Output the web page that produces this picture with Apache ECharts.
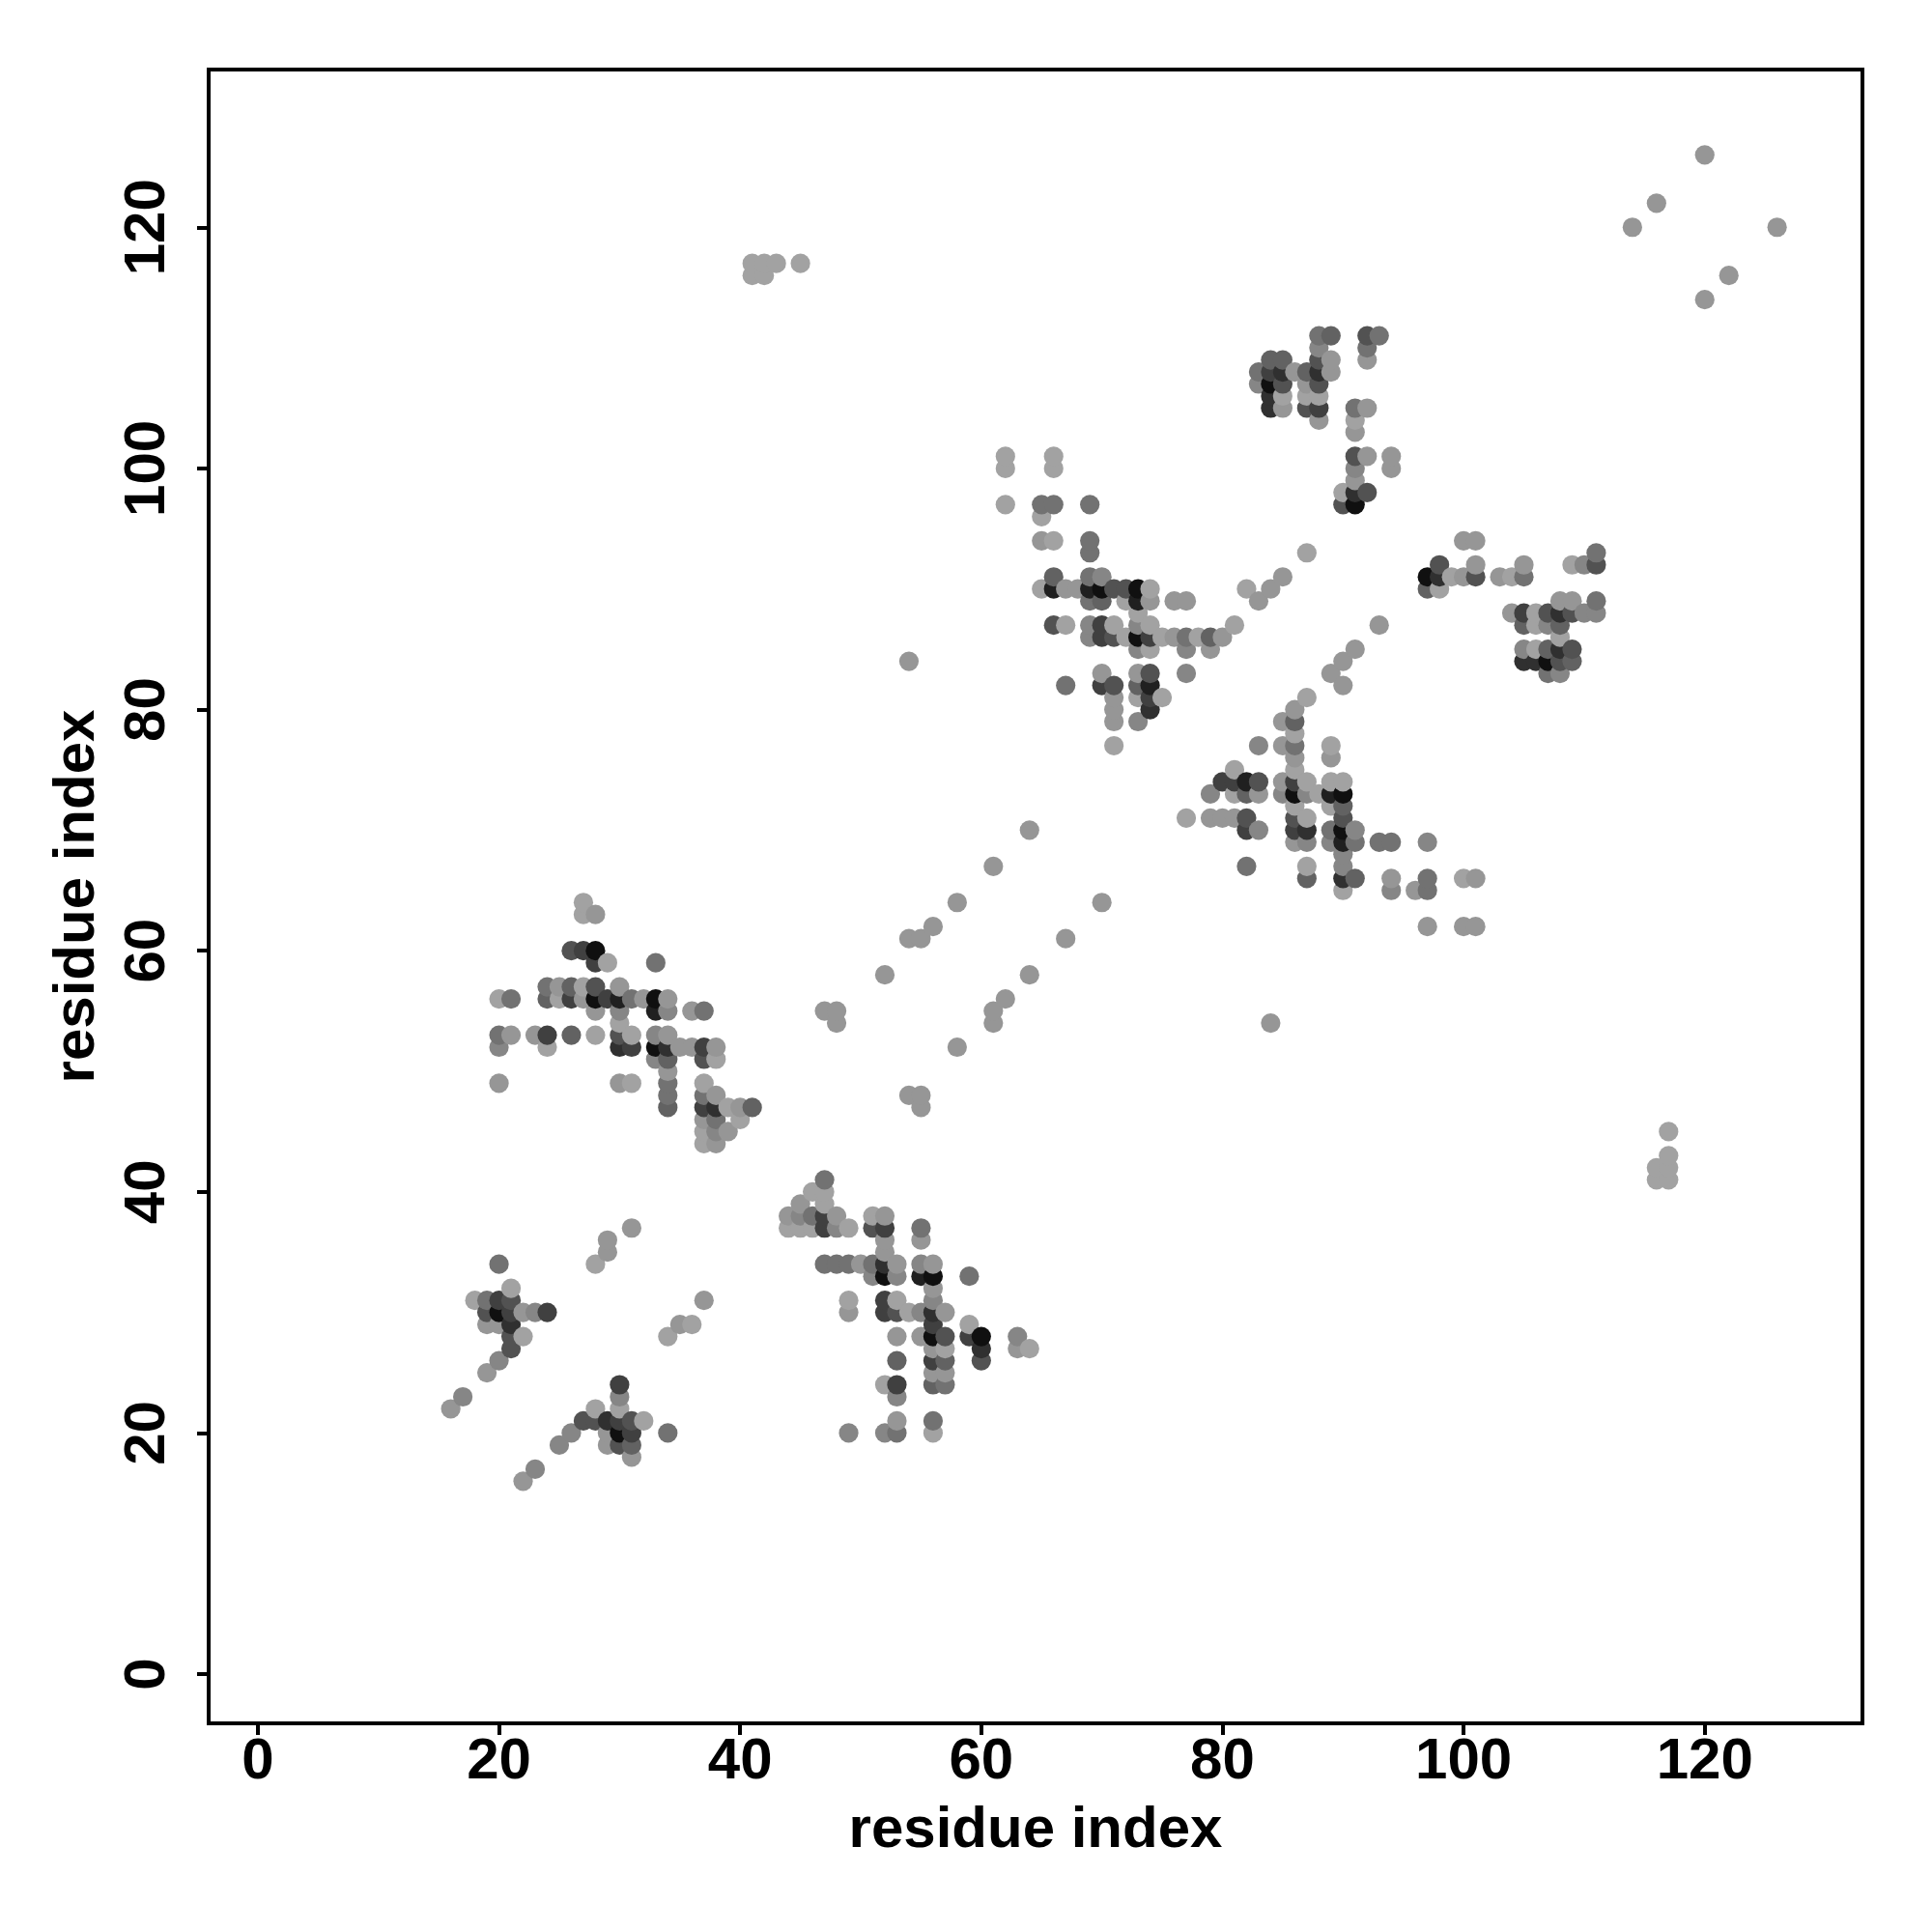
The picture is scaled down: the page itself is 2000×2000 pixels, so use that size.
<!DOCTYPE html>
<html>
<head>
<meta charset="utf-8">
<style>html,body{margin:0;padding:0;background:#fff}#c{width:2000px;height:2000px}</style>
<script src="https://cdn.jsdelivr.net/npm/echarts@6/dist/echarts.min.js"></script>
</head>
<body>
<div id="c"></div>
<script>
// Each entry: [residue i, residue j, contact level 0 (weak) .. 9 (strong)]
const tickValues = [0, 20, 40, 60, 80, 100, 120];
const axisTitle = "residue index";
const blockLow = [
[20,34,3],[28,34,0],[29,35,1],[29,36,1],[31,37,1],[21,32,0],[18,31,0],[19,31,3],[20,31,6],[21,31,5],
[19,30,5],[20,30,9],[21,30,6],[22,30,1],[23,30,2],[24,30,6],[19,29,1],[20,29,1],[21,29,7],[22,28,0],
[21,28,5],[21,27,5],[20,26,2],[19,25,1],[17,23,2],[16,22,1],[22,16,1],[23,17,2],[25,19,2],[26,20,2],
[27,21,5],[28,21,5],[28,22,0],[29,21,7],[30,21,6],[31,21,5],[32,21,0],[29,20,1],[30,20,9],[31,20,6],
[29,19,1],[30,19,5],[31,19,4],[31,18,1],[30,22,0],[30,23,2],[30,24,6],[34,20,3],[34,28,0],[35,29,1],
[36,29,0],[37,31,1]
];
const blockMidLeft = [
[27,64,0],[27,63,0],[28,63,1],[26,60,5],[27,60,6],[28,60,9],[28,59,6],[29,59,0],[33,59,3],[24,57,3],
[25,57,1],[26,57,4],[27,57,0],[28,57,5],[30,57,1],[20,56,0],[21,56,3],[24,56,4],[25,56,0],[26,56,6],
[27,56,1],[28,56,9],[29,56,6],[30,56,8],[31,56,3],[32,56,1],[33,56,9],[34,56,1],[28,55,1],[30,55,2],
[33,55,8],[34,55,2],[36,55,1],[37,55,3],[30,54,0],[20,53,3],[21,53,1],[23,53,1],[24,53,6],[26,53,4],
[28,53,0],[30,53,5],[31,53,0],[33,53,2],[34,53,1],[20,52,2],[24,52,0],[30,52,7],[31,52,6],[33,52,9],
[34,52,7],[35,52,1],[36,52,1],[37,52,6],[38,52,1],[33,51,2],[34,51,4],[37,51,5],[38,51,0],[34,50,1],
[20,49,1],[30,49,1],[31,49,0],[34,49,3],[37,49,0],[34,48,3],[37,48,3],[38,48,1],[34,47,4],[37,47,6],
[38,47,7],[39,47,0],[40,47,1],[41,47,4],[37,46,1],[38,46,3],[40,46,0],[37,45,0],[38,45,2],[39,45,1],
[37,44,0],[38,44,1]
];
const blockMidLow = [
[47,41,3],[46,40,0],[47,40,0],[45,39,1],[47,39,0],[44,38,1],[45,38,2],[46,38,3],[47,38,6],[48,38,1],
[44,37,0],[45,37,0],[46,37,0],[47,37,6],[48,37,2],[49,37,0],[51,38,0],[52,38,1],[51,37,5],[52,37,6],
[55,37,3],[55,36,1],[52,36,1],[52,35,1],[47,34,3],[48,34,3],[49,34,3],[50,34,1],[51,34,3],[52,34,7],
[53,34,1],[55,34,2],[56,34,1],[51,33,2],[52,33,9],[53,33,2],[55,33,8],[56,33,9],[59,33,3],[56,32,1],
[56,31,2],[49,31,0],[49,30,1],[52,31,6],[53,31,0],[52,30,6],[53,30,5],[54,30,0],[55,30,2],[56,30,7],
[57,30,1],[56,29,6],[59,29,0],[53,28,1],[55,28,1],[56,28,9],[57,28,5],[59,28,6],[60,28,9],[63,28,2],
[56,27,1],[57,27,0],[60,27,7],[63,27,1],[64,27,0],[53,26,4],[56,26,6],[57,26,4],[60,26,5],[56,25,1],
[57,25,1],[52,24,0],[53,24,6],[56,24,4],[57,24,3],[53,23,2],[53,21,1],[56,21,3],[49,20,2],[52,20,2],
[53,20,3],[56,20,0]
];
const diagonalStrands = [
[47,55,1],[48,55,1],[48,54,1],[52,58,1],[54,61,1],[55,61,1],[56,62,1],[58,64,1],[61,67,1],[64,70,1],
[54,48,1],[55,48,1],[55,47,1],[58,52,1],[61,54,1],[61,55,1],[62,56,1],[64,58,1],[67,61,1],[70,64,1],
[54,84,1],[84,54,1],[41,117,0],[41,116,0],[42,117,0],[42,116,0],[43,117,0],[45,117,0],[114,120,1],
[116,122,1],[120,126,1],[126,120,1],[122,116,1],[120,114,1],[117,45,0],[117,43,0],[116,42,0],[117,42,0],
[116,41,0],[117,41,0],[93,87,1],[91,85,1],[90,84,1],[89,83,1],[90,82,1]
];
const blockUpperMid = [
[62,101,0],[62,100,0],[62,97,0],[66,101,0],[66,100,0],[65,97,3],[66,97,3],[69,97,3],[65,96,0],[65,94,1],
[66,94,0],[69,94,3],[69,93,3],[66,91,4],[69,91,3],[70,91,2],[87,93,0],[85,91,1],[84,90,1],[82,90,0],
[83,89,1],[65,90,0],[66,90,8],[67,90,1],[68,90,1],[69,90,8],[70,90,9],[71,90,5],[72,90,5],[73,90,9],
[74,90,0],[69,89,3],[70,89,4],[72,89,0],[73,89,8],[74,89,1],[76,89,1],[77,89,1],[73,88,0],[66,87,5],
[67,87,0],[69,87,2],[70,87,6],[71,87,0],[73,87,2],[74,87,0],[81,87,0],[69,86,2],[70,86,6],[71,86,5],
[72,86,0],[73,86,9],[74,86,6],[75,86,0],[76,86,1],[77,86,3],[78,86,0],[79,86,4],[80,86,1],[73,85,2],
[74,85,0],[77,85,2],[79,85,1],[70,83,1],[73,83,1],[74,83,5],[77,83,2],[67,82,3],[70,82,6],[71,82,5],
[73,82,4],[74,82,8],[71,81,1],[73,81,0],[74,81,6],[75,81,0],[71,80,1],[74,80,7],[71,79,1],[73,79,2],
[71,77,0]
];
const blockMidRight = [
[87,81,0],[86,80,1],[85,79,1],[86,79,4],[86,78,0],[83,77,2],[85,77,1],[86,77,3],[89,77,0],[89,76,1],
[86,76,1],[86,75,0],[81,75,0],[80,74,6],[81,74,6],[82,74,8],[83,74,5],[85,74,1],[86,74,6],[87,74,0],
[89,74,0],[90,74,0],[79,73,2],[81,73,0],[82,73,4],[83,73,1],[85,73,2],[86,73,9],[87,73,2],[88,73,0],
[89,73,8],[90,73,9],[86,72,0],[89,72,0],[90,72,4],[77,71,0],[79,71,1],[80,71,1],[81,71,1],[82,71,5],
[86,71,5],[87,71,0],[90,71,5],[82,70,6],[83,70,2],[86,70,6],[87,70,7],[89,70,3],[90,70,9],[91,70,2],
[86,69,1],[87,69,2],[89,69,2],[90,69,8],[91,69,3],[93,69,3],[94,69,3],[97,69,2],[90,68,2],[82,67,3],
[87,67,0],[90,67,2],[87,66,4],[90,66,7],[91,66,4],[94,66,1],[97,66,3],[100,66,0],[101,66,1],[90,65,0],
[94,65,2],[96,65,1],[97,65,3],[97,62,1],[100,62,1],[101,62,1]
];
const blockUpperRight = [
[88,111,3],[89,111,4],[92,111,5],[93,111,3],[88,110,2],[92,110,3],[92,109,1],[89,109,1],[88,109,5],
[84,109,4],[85,109,4],[83,108,3],[84,108,6],[85,108,7],[86,108,1],[87,108,4],[88,108,7],[89,108,1],
[83,107,2],[84,107,9],[85,107,5],[87,107,1],[88,107,5],[84,106,7],[85,106,0],[87,106,0],[88,106,0],
[84,105,7],[85,105,1],[87,105,5],[88,105,6],[91,105,3],[92,105,1],[88,104,1],[91,104,0],[91,103,1],
[91,101,5],[92,101,1],[94,101,1],[91,100,2],[94,100,1],[91,99,1],[90,98,0],[91,98,7],[92,98,5],
[90,97,5],[91,97,9]
];
const blockFarRight = [
[100,94,1],[101,94,1],[98,92,5],[101,92,1],[105,92,1],[111,93,3],[109,92,0],[110,92,2],[111,92,5],
[97,91,9],[98,91,7],[99,91,0],[100,91,1],[101,91,5],[103,91,1],[104,91,0],[105,91,3],[97,90,4],[98,90,0],
[108,89,1],[109,89,1],[111,89,3],[104,88,1],[105,88,6],[106,88,0],[107,88,5],[108,88,7],[109,88,5],
[110,88,2],[111,88,2],[105,87,4],[106,87,0],[107,87,2],[108,87,4],[108,86,0],[105,85,2],[106,85,0],
[107,85,4],[108,85,7],[109,85,5],[105,84,7],[106,84,7],[107,84,9],[108,84,5],[109,84,4],[107,83,3],[108,83,2]
];
const levelColours = ["#a2a2a2","#969696","#868686","#727272","#626262","#525252","#404040","#303030","#202020","#101010"];

const contacts = [].concat(blockLow, blockMidLeft, blockMidLow, diagonalStrands,
  blockUpperMid, blockMidRight, blockUpperRight, blockFarRight)
  .sort((a, b) => a[0] - b[0] || a[1] - b[1]);

const fontFamily = '"Liberation Sans", Arial, sans-serif';
function axis(rotate, labelMargin, nameGap) {
  return {
    type: 'value', min: -4.08, max: 133.08, splitLine: {show: false},
    name: axisTitle, nameLocation: 'middle', nameGap: nameGap,
    nameTextStyle: {color: '#000', fontFamily, fontWeight: 'bold', fontSize: 60},
    axisLine: {show: true, onZero: false, lineStyle: {color: '#000', width: 4}},
    axisTick: {show: true, length: 12, customValues: tickValues, lineStyle: {color: '#000', width: 4}},
    axisLabel: {show: true, customValues: tickValues, rotate, margin: labelMargin, hideOverlap: false,
      color: '#000', fontFamily, fontWeight: 'bold', fontSize: 60}
  };
}
const chart = echarts.init(document.getElementById('c'), null, {renderer: 'canvas', width: 2000, height: 2000});
chart.setOption({
  animation: false,
  backgroundColor: '#fff',
  grid: {show: true, left: 216, top: 72, width: 1712, height: 1712, borderColor: '#000', borderWidth: 4, backgroundColor: 'transparent'},
  xAxis: axis(0, 10, 81),
  yAxis: axis(90, 33, 106),
  series: [{
    type: 'scatter', symbol: 'circle', symbolSize: 20.2, silent: true,
    data: contacts,
    encode: {x: 0, y: 1},
    itemStyle: {opacity: 1, color: p => levelColours[p.value[2]]}
  }]
});
</script>
</body>
</html>
